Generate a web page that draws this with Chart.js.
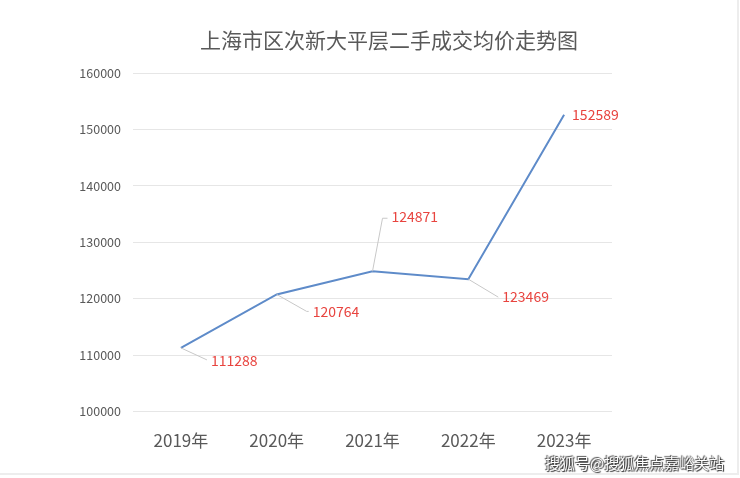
<!DOCTYPE html>
<html>
<head>
<meta charset="utf-8">
<script src="https://cdn.jsdelivr.net/npm/chart.js@4/dist/chart.umd.min.js"></script>
<style>
    html, body { margin: 0; padding: 0; background: #fff; }
    #wrap { position: relative; width: 740px; height: 478px; overflow: hidden; }
    #edgeR { position: absolute; left: 737px; top: 0; width: 2px; height: 474px; background: #ededed; }
    #edgeB { position: absolute; left: 0; top: 473px; width: 739px; height: 2px; background: #ededed; }
    #mark {
        position: absolute; left: 545px; top: 452px;
        font: 15px "Noto Sans CJK SC", sans-serif; color: #fff;
        text-shadow: 0 0 1px #333, 1px 1px 1px #333, -1px -1px 1px #555;
    }
</style>
</head>
<body>
<div id="wrap">
    <canvas id="chart" width="740" height="478"></canvas>
    <div id="edgeR"></div>
    <div id="edgeB"></div>
    <div id="mark">搜狐号@搜狐焦点嘉峪关站</div>
</div>
<script>
// 数据
const years = ['2019年', '2020年', '2021年', '2022年', '2023年'];
const prices = [111288, 120764, 124871, 123469, 152589];
const yTicks = [100000, 110000, 120000, 130000, 140000, 150000, 160000];

const titleText = '上海市区次新大平层二手成交均价走势图';
const fontFamily = '"Noto Sans CJK SC", "Noto Sans", sans-serif';

// 数据标签的位置 (相对点的偏移, 引线折点)
const labelPlace = [
    { bend: [26, 12], dx: 30, dy: 13 },
    { bend: [30, 17], dx: 36, dy: 17 },
    { bend: [10, -53], dx: 19, dy: -55 },
    { bend: [30, 18], dx: 34, dy: 18 },
    { bend: null, dx: 8, dy: 0 }
];

// 标题
const titlePlugin = {
    id: 'titleText',
    afterDraw(chart) {
        const ctx = chart.ctx;
        ctx.save();
        ctx.font = '21px ' + fontFamily;
        ctx.fillStyle = '#595959';
        ctx.textAlign = 'center';
        ctx.textBaseline = 'middle';
        ctx.fillText(titleText, 389, 40);
        ctx.restore();
    }
};

// 数据标签和引线
const labelPlugin = {
    id: 'pointLabels',
    afterDatasetsDraw(chart) {
        const ctx = chart.ctx;
        const pts = chart.getDatasetMeta(0).data;
        ctx.save();
        ctx.font = '14px ' + fontFamily;
        ctx.textBaseline = 'middle';
        ctx.textAlign = 'left';
        pts.forEach((p, i) => {
            const lp = labelPlace[i];
            if (lp.bend) {
                ctx.strokeStyle = '#c8c8c8';
                ctx.lineWidth = 1;
                ctx.beginPath();
                ctx.moveTo(p.x, p.y);
                ctx.lineTo(p.x + lp.bend[0], p.y + lp.bend[1]);
                ctx.lineTo(p.x + lp.dx - 4, p.y + lp.bend[1]);
                ctx.stroke();
            }
            ctx.fillStyle = '#e8443f';
            ctx.fillText(String(prices[i]), p.x + lp.dx, p.y + lp.dy);
        });
        ctx.restore();
    }
};

new Chart(document.getElementById('chart'), {
    type: 'line',
    data: {
        labels: years,
        datasets: [{
            data: prices,
            borderColor: '#5e8bc9',
            borderWidth: 2,
            pointRadius: 0,
            tension: 0,
            fill: false
        }]
    },
    options: {
        responsive: false,
        animation: false,
        layout: { padding: { top: 73, right: 128, bottom: 8, left: 0 } },
        plugins: {
            legend: { display: false },
            tooltip: { enabled: false }
        },
        scales: {
            x: {
                offset: true,
                grid: { display: false, drawTicks: false },
                border: { display: false },
                ticks: {
                    padding: 19,
                    color: '#595959',
                    font: { family: fontFamily, size: 17 }
                }
            },
            y: {
                min: 100000,
                max: 160000,
                afterBuildTicks: s => { s.ticks = yTicks.map(v => ({ value: v })); },
                afterFit: s => { s.width = 133; },
                grid: { color: '#e6e6e6', lineWidth: 1, drawTicks: false },
                border: { display: false },
                ticks: {
                    padding: 12,
                    color: '#595959',
                    font: { family: fontFamily, size: 12.5 },
                    callback: v => String(v)
                }
            }
        }
    },
    plugins: [titlePlugin, labelPlugin]
});
</script>
</body>
</html>
